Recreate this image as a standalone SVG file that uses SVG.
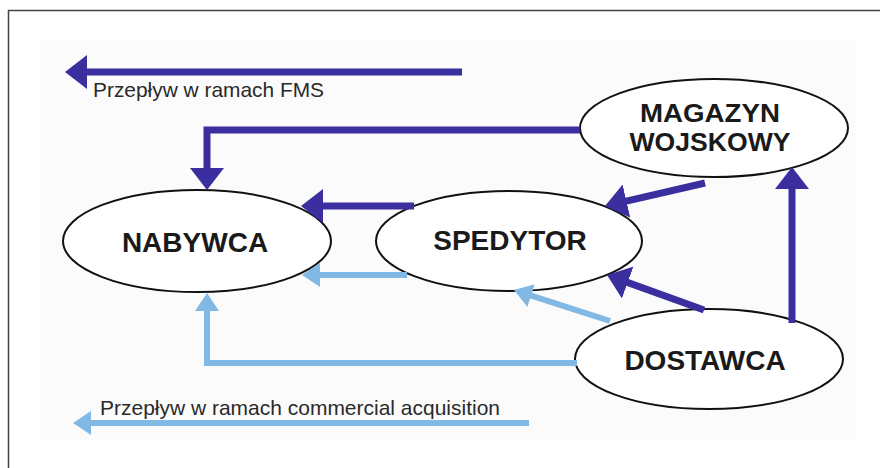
<svg xmlns="http://www.w3.org/2000/svg" width="880" height="468" viewBox="0 0 880 468">
<style>
.node ellipse{fill:#ffffff;stroke:#111111;stroke-width:2}
.node text{font-family:"Liberation Sans",Arial,sans-serif;font-weight:bold;font-size:28px;fill:#1a1a1a;text-anchor:middle}
.node text.two{font-size:25px}
.legend{font-family:"Liberation Sans",Arial,sans-serif;font-size:21px;fill:#2a2a2a}
.fms{fill:none;stroke:#3b2f9f;stroke-width:7;marker-end:url(#arrDark)}
.com{fill:none;stroke:#82b8e4;stroke-width:6;marker-end:url(#arrLight)}
</style>
<defs>
<marker id="arrDark" markerUnits="userSpaceOnUse" viewBox="0 -17 22 34" markerWidth="22" markerHeight="34" refX="10" refY="0" orient="auto">
<path d="M0,-17 L22,0 L0,17 z" fill="#3b2f9f"/>
</marker>
<marker id="arrLight" markerUnits="userSpaceOnUse" viewBox="0 -12 18 24" markerWidth="18" markerHeight="24" refX="8" refY="0" orient="auto">
<path d="M0,-12 L18,0 L0,12 z" fill="#82b8e4"/>
</marker>
</defs>
<rect x="0" y="0" width="880" height="468" fill="#ffffff"/>
<rect x="40" y="40" width="816" height="400" fill="#fbfbfb"/>
<path d="M8.5,468 V10.5 H880" fill="none" stroke="#444444" stroke-width="1.5"/>

<g id="nodes">
<g id="nabywca" class="node">
<ellipse cx="197" cy="241" rx="134" ry="51"/>
<text x="195" y="252">NABYWCA</text>
</g>
<g id="spedytor" class="node">
<ellipse cx="509" cy="241" rx="133" ry="50"/>
<text x="510" y="250">SPEDYTOR</text>
</g>
<g id="magazyn" class="node">
<ellipse cx="714" cy="128" rx="134" ry="49"/>
<text class="two" x="710" y="121.5" textLength="140" lengthAdjust="spacingAndGlyphs">MAGAZYN</text>
<text class="two" x="710" y="150.5" textLength="161" lengthAdjust="spacingAndGlyphs">WOJSKOWY</text>
</g>
<g id="dostawca" class="node">
<ellipse cx="709" cy="359" rx="134" ry="50"/>
<text x="705" y="370">DOSTAWCA</text>
</g>
</g>

<g id="connectors">
<path class="fms" d="M580,130 H207 V178"/>
<path class="fms" d="M414,206 H313"/>
<path class="fms" d="M705,183 L616.7,203.3"/>
<path class="fms" d="M704,310 L618.3,279.1"/>
<path class="fms" d="M792,323 V179"/>
<path class="com" d="M407,275 H312"/>
<path class="com" d="M610,321 L523.5,293.1"/>
<path class="com" d="M577,363 H207 V303"/>
</g>

<g id="legend">
<path class="fms" d="M462,72 H77"/>
<text class="legend" x="93" y="97" textLength="231" lengthAdjust="spacingAndGlyphs">Przepływ w ramach FMS</text>
<path class="com" d="M529,423 H83"/>
<text class="legend" x="100" y="415" textLength="400" lengthAdjust="spacingAndGlyphs">Przepływ w ramach commercial acquisition</text>
</g>
</svg>
